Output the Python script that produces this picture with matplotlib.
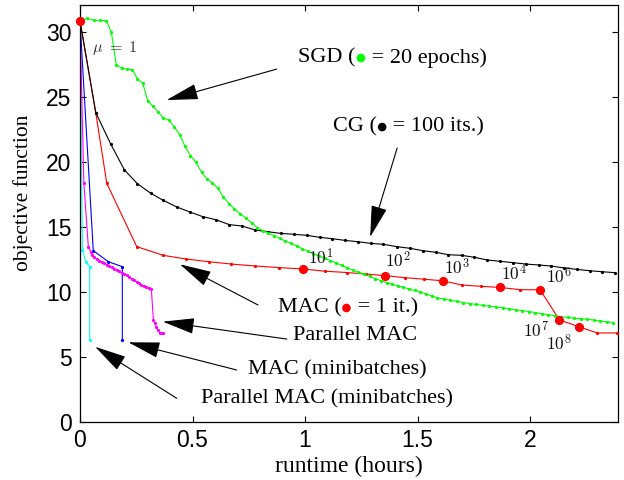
import matplotlib
matplotlib.use('Agg')
import matplotlib.pyplot as plt
from matplotlib.offsetbox import TextArea, HPacker, AnnotationBbox, DrawingArea
from matplotlib.patches import Circle

plt.rcParams['mathtext.fontset'] = 'cm'

# ---------------- data (runtime in hours, objective function) ----------------
sgd_time = [0, 0.030, 0.064, 0.089, 0.117, 0.139, 0.161, 0.187, 0.210, 0.233,
            0.255, 0.279, 0.301, 0.323, 0.348, 0.370, 0.396, 0.419, 0.443, 0.467,
            0.490, 0.514, 0.541, 0.564, 0.588, 0.612, 0.637, 0.662, 0.686, 0.713,
            0.736, 0.763, 0.787, 0.812, 0.837, 0.862, 0.887, 0.912, 0.937, 0.962,
            0.987, 1.012, 1.037, 1.062, 1.087, 1.112, 1.137, 1.162, 1.187, 1.212,
            1.237, 1.262, 1.287, 1.312, 1.337, 1.362, 1.387, 1.412, 1.437, 1.462,
            1.487, 1.512, 1.537, 1.562, 1.587, 1.616, 1.645, 1.674, 1.703, 1.732,
            1.761, 1.790, 1.819, 1.848, 1.877, 1.906, 1.935, 1.964, 1.993, 2.022,
            2.051, 2.080, 2.109, 2.138, 2.167, 2.196, 2.225, 2.254, 2.283, 2.312,
            2.341, 2.370]
sgd_obj = [30.85, 31.05, 30.9, 30.9, 30.87, 30.0, 27.5, 27.2, 27.15, 27.1,
           26.4, 26.05, 24.7, 24.3, 23.85, 23.4, 23.2, 22.7, 22.1, 21.2,
           20.5, 20.0, 19.2, 18.7, 18.4, 18.0, 17.3, 16.8, 16.4, 16.0,
           15.7, 15.3, 14.95, 14.72, 14.55, 14.33, 14.12, 13.93, 13.74, 13.55,
           13.33, 13.14, 12.95, 12.77, 12.6, 12.42, 12.24, 12.06, 11.86, 11.68,
           11.53, 11.38, 11.2, 11.03, 10.87, 10.73, 10.6, 10.48, 10.36, 10.24,
           10.12, 10.0, 9.85, 9.7, 9.56, 9.46, 9.37, 9.28, 9.19, 9.11,
           9.04, 8.97, 8.91, 8.86, 8.79, 8.71, 8.64, 8.57, 8.5, 8.42,
           8.33, 8.25, 8.18, 8.1, 8.05, 7.99, 7.95, 7.91, 7.84, 7.77,
           7.71, 7.65]

cg_time = [0, 0.070, 0.136, 0.197, 0.255, 0.314, 0.370, 0.430, 0.489, 0.545,
           0.604, 0.664, 0.719, 0.778, 0.833, 0.892, 0.951, 1.007, 1.064, 1.121,
           1.178, 1.234, 1.292, 1.348, 1.407, 1.467, 1.523, 1.582, 1.637, 1.696,
           1.752, 1.810, 1.867, 1.923, 1.981, 2.037, 2.093, 2.151, 2.207, 2.264,
           2.319, 2.375]
cg_obj = [30.85, 23.8, 21.4, 19.4, 18.33, 17.6, 17.05, 16.54, 16.15, 15.8,
          15.56, 15.18, 15.08, 14.77, 14.64, 14.51, 14.44, 14.36, 14.21, 14.1,
          13.97, 13.87, 13.74, 13.67, 13.49, 13.36, 13.18, 13.05, 12.87, 12.82,
          12.67, 12.46, 12.36, 12.26, 12.15, 12.08, 12.0, 11.85, 11.74, 11.64,
          11.56, 11.49]

mac_time = [0, 0.070, 0.119, 0.252, 0.370, 0.471, 0.572, 0.673, 0.779, 0.883,
            0.990, 1.089, 1.185, 1.271, 1.356, 1.444, 1.526, 1.612, 1.696, 1.780,
            1.867, 1.955, 2.044, 2.130, 2.216, 2.298, 2.385]
mac_obj = [30.85, 23.8, 18.36, 13.49, 12.82, 12.54, 12.33, 12.15, 12.0, 11.88,
           11.77, 11.6, 11.5, 11.38, 11.26, 11.1, 10.99, 10.86, 10.54, 10.44,
           10.35, 10.18, 10.17, 7.85, 7.33, 6.85, 6.85]
# iterations where the penalty parameter mu changes (big red dots)
mu_idx = [0, 10, 14, 17, 20, 22, 23, 24]
mu_labels = [r'$\mu\ =\ 1$', r'$10^1$', r'$10^2$', r'$10^3$', r'$10^4$',
             r'$10^6$', r'$10^7$', r'$10^8$']

pmac_time = [0, 0.017, 0.037, 0.048, 0.055, 0.063, 0.074, 0.085, 0.096, 0.107,
             0.118, 0.130, 0.141, 0.152, 0.163, 0.174, 0.185, 0.196, 0.207, 0.218,
             0.229, 0.240, 0.251, 0.262, 0.273, 0.284, 0.295, 0.306, 0.317, 0.326,
             0.333, 0.339, 0.347, 0.356, 0.363, 0.369]
pmac_obj = [30.85, 18.4, 13.5, 13.1, 12.85, 12.7, 12.55, 12.42, 12.3, 12.2,
            12.1, 12.0, 11.9, 11.8, 11.68, 11.58, 11.48, 11.4, 11.3, 11.17,
            11.03, 10.9, 10.8, 10.67, 10.55, 10.45, 10.36, 10.3, 10.2, 7.85,
            7.6, 7.33, 7.05, 6.85, 6.85, 6.85]

macmb_time = [0, 0.059, 0.126, 0.188, 0.188]
macmb_obj = [30.85, 13.18, 12.33, 11.95, 6.33]

pmacmb_time = [0, 0.011, 0.026, 0.043, 0.043]
pmacmb_obj = [30.85, 13.23, 12.3, 11.95, 6.33]

# ---------------- figure ----------------
W, H = 624, 480
fig = plt.figure(figsize=(W / 100, H / 100), dpi=100)
ax = fig.add_axes([80 / W, 58 / H, 538 / W, 417 / H])

lw = 0.8
ms = 2.6
ax.plot(pmacmb_time, pmacmb_obj, '-', color='#00ffff', lw=lw, marker='.', ms=ms, zorder=2)
ax.plot(macmb_time, macmb_obj, '-', color='#0000ff', lw=lw, marker='.', ms=ms, zorder=2)
ax.plot(pmac_time, pmac_obj, '-', color='#ff00ff', lw=lw, marker='.', ms=ms, zorder=2)
ax.plot(mac_time, mac_obj, '-', color='#ff0000', lw=lw, marker='.', ms=ms, zorder=3)
ax.plot(cg_time, cg_obj, '-', color='black', lw=lw, marker='.', ms=ms, zorder=4)
ax.plot(sgd_time, sgd_obj, '-', color='#00ff00', lw=lw, marker='.', ms=ms, zorder=5)
ax.plot([mac_time[i] for i in mu_idx], [mac_obj[i] for i in mu_idx], 'o',
        color='#ff0000', ms=5.6, mec='#ff0000', zorder=6, clip_on=False)

# mu labels (offsets in pixels from the dot)
mu_offsets = [(12, -27), (5, 5), (0, 8), (1, 6), (1, 7), (6, 6), (-36, -17), (-33, -24)]
for i, lab, off in zip(mu_idx, mu_labels, mu_offsets):
    va = 'center' if i == 0 else 'baseline'
    ax.annotate(lab, xy=(mac_time[i], mac_obj[i]), xytext=off,
                textcoords='offset pixels', ha='left', va=va,
                fontsize=11.5 if i == 0 else 12.5,
                color='#333333' if i == 0 else '#111111', zorder=7)

ax.set_xlim(0, 2.39)
ax.set_ylim(0, 32.08)
ax.set_xticks([0, 0.5, 1, 1.5, 2])
ax.set_xticklabels(['0', '0.5', '1', '1.5', '2'])
ax.set_yticks([0, 5, 10, 15, 20, 25, 30])
ax.tick_params(direction='in', top=True, right=True, length=4, width=0.8,
               labelsize=16.5)
ax.tick_params(axis='x', pad=5)
ax.tick_params(axis='y', pad=6)
for t in ax.get_xticklabels() + ax.get_yticklabels():
    t.set_family(['Liberation Sans', 'DejaVu Sans'])
for s in ax.spines.values():
    s.set_linewidth(0.9)

serif = ['Liberation Serif', 'DejaVu Serif']
ax.set_xlabel('runtime (hours)', fontsize=17, family=serif)
ax.set_ylabel('objective function', fontsize=15.5, family=serif)
ax.xaxis.set_label_coords(0.5, -0.082)
ax.yaxis.set_label_coords(-0.087, 0.549)

# ---------------- annotations ----------------
fs = 16
def label(parts, center):
    areas = []
    for txt, col in parts:
        if txt is None:
            da = DrawingArea(7.5, 4, 0, 0)
            da.add_artist(Circle((3.75, 2.0), 3.1, fc=col, ec='none'))
            areas.append(da)
        else:
            areas.append(TextArea(txt, textprops=dict(fontsize=fs, family=serif, color=col)))
    box = HPacker(children=areas, align='center', pad=0, sep=0)
    ab = AnnotationBbox(box, center, xycoords='data', box_alignment=(0.5, 0.5),
                        frameon=False, pad=0, zorder=8)
    ax.add_artist(ab)

def arrow(tail, tip):
    ax.annotate('', xy=tip, xytext=tail, xycoords='data', textcoords='data',
                arrowprops=dict(arrowstyle='-|>,head_length=1.0,head_width=0.25',
                                color='black', lw=0.8, mutation_scale=20,
                                shrinkA=0, shrinkB=0), zorder=8)

label([('SGD (', 'black'), (None, '#00ff00'), (' = 20 epochs)', 'black')], (1.389, 28.0))
arrow((0.874, 27.15), (0.385, 24.77))
label([('CG (', 'black'), (None, 'black'), (' = 100 its.)', 'black')], (1.46, 22.69))
arrow((1.409, 21.08), (1.289, 14.23))
label([('MAC (', 'black'), (None, '#ff0000'), (' = 1 it.)', 'black')], (1.189, 8.77))
arrow((0.791, 9.0), (0.444, 12.13))
label([('Parallel MAC', 'black')], (1.222, 6.69))
arrow((0.919, 6.38), (0.368, 7.72))
label([('MAC (minibatches)', 'black')], (1.142, 4.0))
arrow((0.696, 4.0), (0.215, 6.13))
label([('Parallel MAC (minibatches)', 'black')], (1.098, 1.77))
arrow((0.430, 1.82), (0.067, 5.79))

fig.savefig('out.png', dpi=100)
